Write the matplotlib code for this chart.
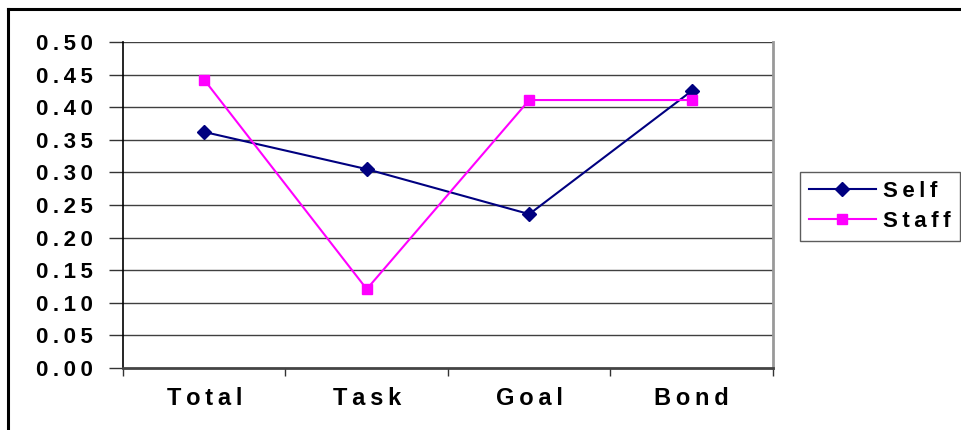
import matplotlib
matplotlib.use("Agg")
import matplotlib.pyplot as plt
from matplotlib.lines import Line2D
from matplotlib.ticker import FixedLocator, FuncFormatter

categories = ["Total", "Task", "Goal", "Bond"]
self_vals = [0.362, 0.305, 0.236, 0.425]
staff_vals = [0.442, 0.121, 0.411, 0.411]
y_ticks = [0.00, 0.05, 0.10, 0.15, 0.20, 0.25, 0.30, 0.35, 0.40, 0.45, 0.50]

FAM = ["Liberation Sans", "DejaVu Sans"]
SP = "\u2009"

def spaced(s):
    return SP.join(list(s))

plt.rcParams["font.family"] = FAM

fig = plt.figure(figsize=(9.62, 4.30), dpi=100)
fig.patch.set_facecolor("white")
ax = fig.add_axes([123/962, 1-368/430, (773-123)/962, (368-42)/430])

x = list(range(len(categories)))
ax.plot(x, self_vals, color="#000080", lw=1.5, marker="D", ms=7.5, label="Self", zorder=3)
ax.plot(x, staff_vals, color="#FF00FF", lw=1.5, marker="s", ms=7.5, label="Staff", zorder=3)

ax.set_xlim(-0.5, len(categories) - 0.5)
ax.set_ylim(0, 0.5)
ax.set_yticks(y_ticks)
ax.yaxis.set_major_formatter(FuncFormatter(lambda v, p: spaced(f"{v:.2f}")))
for yv in y_ticks[1:]:
    ax.axhline(yv, color="#404040", lw=1.0, zorder=1)

ax.set_xticks(x)
ax.set_xticklabels([spaced(c) for c in categories])
ax.xaxis.set_minor_locator(FixedLocator([i - 0.5 for i in range(len(categories) + 1)]))
ax.tick_params(axis="x", which="major", length=0, pad=14, labelsize=17)
ax.tick_params(axis="x", which="minor", length=6, width=1, color="#333333", direction="out")
ax.tick_params(axis="y", length=10, width=1, color="#333333", pad=12, labelsize=16)
for lab in ax.get_xticklabels() + ax.get_yticklabels():
    lab.set_fontweight("bold")

ax.spines["top"].set_visible(False)
ax.spines["left"].set_color("#000000")
ax.spines["left"].set_linewidth(1.2)
ax.spines["bottom"].set_color("#444444")
ax.spines["bottom"].set_linewidth(2)
ax.spines["right"].set_color("#999999")
ax.spines["right"].set_linewidth(2)

leg = fig.legend(loc="upper left", bbox_to_anchor=(800/962, 1-172/430),
                 frameon=True, fancybox=False, edgecolor="#333333",
                 prop={"weight": "bold", "size": 16}, handlelength=3.0,
                 borderpad=0.4, labelspacing=0.4, handletextpad=0.35,
                 borderaxespad=0)
leg.get_frame().set_linewidth(1)
for t in leg.get_texts():
    t.set_text(spaced(t.get_text()))

# outer chart frame (left and top visible)
fig.add_artist(Line2D([8/962, 8/962], [0, 1-9/430], color="black", lw=2.2, transform=fig.transFigure))
fig.add_artist(Line2D([8/962, 1], [1-9/430, 1-9/430], color="black", lw=2.2, transform=fig.transFigure))

fig.savefig("out.png", dpi=100, facecolor="white")
